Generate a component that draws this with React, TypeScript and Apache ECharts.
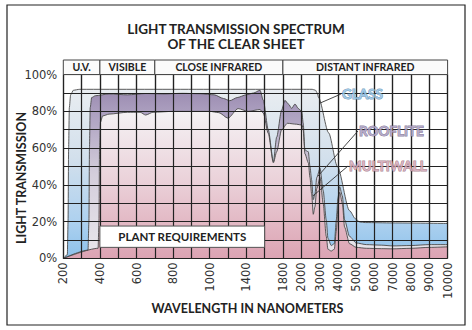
import React, { useEffect, useRef } from "react";
import * as echarts from "echarts";

// Axis ticks (the axis is not linear in wavelength: one grid cell per tick)
const TICK_WL = [200, 300, 400, 500, 600, 700, 800, 900, 1000, 1200, 1400, 1600, 1800, 2000, 3000, 4000, 5000, 6000, 7000, 8000, 9000, 10000];
const TICK_LABELS = ["200", "", "400", "", "600", "", "800", "", "1000", "", "1400", "", "1800", "2000", "3000", "4000", "5000", "6000", "7000", "8000", "9000", "10000"];
const Y_GRID = [0, 10, 20, 30, 40, 50, 60, 70, 80, 90, 100];

// Spectral bands in the header
const BAND_EDGES = [200, 400, 700, 1800, 10000];
const BAND_NAMES = ["U.V.", "VISIBLE", "CLOSE INFRARED", "DISTANT INFRARED"];

// Glass
const GLASS_WL = [200, 222, 226, 229, 233, 240, 255, 290, 1000, 2000, 2600, 2780, 2880, 2950, 3500, 3980, 4640, 4970, 5200, 5500, 7000, 10000];
const GLASS_T = [0, 2, 20, 60, 82, 89, 91.5, 92, 92, 92, 92, 91.5, 90, 87.5, 68.3, 50, 26, 21.5, 19.8, 19.5, 19.3, 19];

// Rooflite
const ROOF_WL = [200, 335, 340, 343, 347, 355, 375, 450, 550, 650, 750, 850, 950, 1050, 1150, 1220, 1300, 1400, 1480, 1550, 1586, 1640, 1696, 1732, 1786, 1822, 1860, 1896, 1932, 1968, 2030, 2110, 2200, 2390, 2480, 2570, 2660, 2750, 2850, 3030, 3200, 3370, 3460, 3640, 3810, 3920, 4010, 4100, 4250, 4370, 4640, 5010, 5560, 6380, 7000, 8000, 9000, 10000];
const ROOF_T = [0, 4.5, 20, 60, 82, 87.5, 88.5, 89.5, 89, 89.7, 89.5, 89.8, 89.6, 89, 87, 85.8, 87.5, 89, 90, 91.5, 86, 70, 52.6, 66, 80.7, 86, 84, 81.6, 84, 81.6, 80, 73.6, 59, 58, 50, 42.6, 32, 35, 44, 49, 37, 21, 11, 7, 8, 21, 33, 39, 34, 21, 12, 8.4, 7.5, 7.2, 6.8, 7, 7.5, 7.5];

// Multiwall
const MULTI_WL = [200, 390, 395, 398, 403, 415, 450, 550, 620, 650, 690, 800, 900, 1000, 1100, 1200, 1310, 1420, 1550, 1586, 1640, 1696, 1732, 1786, 1850, 1950, 2050, 2110, 2200, 2390, 2480, 2570, 2660, 2750, 2850, 3030, 3200, 3370, 3460, 3640, 3810, 3920, 4010, 4100, 4250, 4370, 4640, 5010, 5560, 6380, 7000, 8000, 9000, 10000];
const MULTI_T = [0, 5.5, 20, 60, 74, 77.5, 78.5, 79.5, 79.5, 78, 79.5, 80, 80, 80, 79.3, 76.3, 81.5, 80, 81, 79, 68, 52, 58, 70, 73.5, 73, 72.5, 70, 57, 52, 44, 35, 24, 28, 38, 44, 30, 12, 5, 4, 5, 15, 28, 36, 30, 17, 8, 6, 5.5, 5.3, 5.2, 5.5, 6, 6.3];

// Plant requirements box (wavelength range, transmission range)
const PLANT_WL = [400, 1600];
const PLANT_T = [6, 17.6];

// Series labels with leader lines
const LABEL_NAMES = ["GLASS", "ROOFLITE", "MULTIWALL"];
const LABEL_FROM_WL = [4170, 5100, 4560];
const LABEL_FROM_T = [89.4, 69.3, 50.3];
const LABEL_TO_WL = [3030, 2920, 2640];
const LABEL_TO_T = [84.5, 44.8, 34];
const LABEL_COLORS = ["#9ccaea", "#b3a7c8", "#dab0bf"];
const LABEL_EDGES = ["#5b88ad", "#716489", "#936676"];

function pos(w: number): number {
  for (let i = 0; i < TICK_WL.length - 1; i++) {
    if (w <= TICK_WL[i + 1]) {
      return i + (w - TICK_WL[i]) / (TICK_WL[i + 1] - TICK_WL[i]);
    }
  }
  return TICK_WL.length - 1;
}

function toXY(wl: number[], t: number[]) {
  return wl.map((w, i) => [pos(w), t[i]]);
}

const FONT = "Lato, 'Open Sans', sans-serif";

export default function App() {
  const ref = useRef<HTMLDivElement>(null);

  useEffect(() => {
    if (!ref.current) return;
    const chart = echarts.init(ref.current, null, { renderer: "svg" });
    const G = echarts.graphic.LinearGradient;
    const outline = { color: "#4a4a4a", width: 0.9 };
    const gridLeft = 63.3;
    const gridRight = 472 - 447.6;
    const xMax = TICK_WL.length - 1;
    const gridLineStyle = { color: "#222", width: 1.2, type: "solid" };

    // grid lines (vertical at every tick, horizontal every 10 %) plus label leader lines
    const gridLines: any[] = [
      ...TICK_WL.map((_, i) => [
        { coord: [i, 0], lineStyle: gridLineStyle },
        { coord: [i, 100] },
      ]),
      ...Y_GRID.map((v) => [
        { coord: [0, v], lineStyle: gridLineStyle },
        { coord: [xMax, v] },
      ]),
    ];
    const leaderLines: any[] = LABEL_NAMES.map((_, i) => [
      { coord: [pos(LABEL_FROM_WL[i]), LABEL_FROM_T[i]] },
      { coord: [pos(LABEL_TO_WL[i]), LABEL_TO_T[i]] },
    ]);

    const option: any = {
      animation: false,
      backgroundColor: "#ffffff",
      title: {
        text: "LIGHT TRANSMISSION SPECTRUM\nOF THE CLEAR SHEET",
        left: "center",
        top: 16,
        textStyle: { fontFamily: FONT, fontWeight: "bold", fontSize: 13.5, lineHeight: 15, color: "#222" },
      },
      grid: [
        { left: gridLeft, right: gridRight, top: 74.6, bottom: 330 - 258.4 },
        { left: gridLeft, right: gridRight, top: 60, height: 14.6 },
      ],
      xAxis: [
        {
          type: "value",
          gridIndex: 0,
          min: 0,
          max: xMax,
          interval: 1,
          axisLine: { show: false },
          axisTick: { show: false },
          splitLine: { show: true, lineStyle: { color: "#222", width: 1.2 } },
          axisLabel: {
            rotate: 90,
            margin: 4,
            fontSize: 11.5,
            color: "#333",
            fontFamily: "'DejaVu Sans', sans-serif",
            formatter: (v: number) => TICK_LABELS[Math.round(v)] ?? "",
          },
        },
        { type: "value", gridIndex: 1, min: 0, max: xMax, show: false },
      ],
      yAxis: [
        {
          type: "value",
          gridIndex: 0,
          min: 0,
          max: 100,
          interval: 10,
          axisLine: { show: false },
          axisTick: { show: false },
          splitLine: { show: true, lineStyle: { color: "#222", width: 1.2 } },
          axisLabel: {
            margin: 6,
            fontSize: 11.5,
            color: "#333",
            fontFamily: "'DejaVu Sans', sans-serif",
            formatter: (v: number) => (v % 20 === 0 ? v + "%" : ""),
          },
        },
        { type: "value", gridIndex: 1, min: 0, max: 1, show: false },
      ],
      series: [
        {
          type: "line",
          name: "Glass",
          data: toXY(GLASS_WL, GLASS_T),
          symbol: "none",
          smooth: 0.25,
          smoothMonotone: "x",
          lineStyle: outline,
          z: 2,
          areaStyle: {
            opacity: 1,
            color: new G(0, 0, 0, 1, [
              { offset: 0, color: "#e9edf1" },
              { offset: 0.4, color: "#d3e0ec" },
              { offset: 0.78, color: "#aed1ef" },
              { offset: 1, color: "#8cc1eb" },
            ]),
          },
        },
        {
          type: "line",
          name: "Rooflite",
          data: toXY(ROOF_WL, ROOF_T),
          symbol: "none",
          smooth: 0.25,
          smoothMonotone: "x",
          lineStyle: outline,
          z: 2,
          areaStyle: {
            opacity: 1,
            color: new G(0, 0, 0, 1, [
              { offset: 0, color: "#9b8bb1" },
              { offset: 0.15, color: "#aea2c1" },
              { offset: 0.5, color: "#d4cedb" },
              { offset: 1, color: "#e9e7ec" },
            ]),
          },
        },
        {
          type: "line",
          name: "Multiwall",
          data: toXY(MULTI_WL, MULTI_T),
          symbol: "none",
          smooth: 0.25,
          smoothMonotone: "x",
          lineStyle: outline,
          z: 2,
          areaStyle: {
            opacity: 1,
            color: new G(0, 0, 0, 1, [
              { offset: 0, color: "#f5f3f5" },
              { offset: 0.5, color: "#ead0d8" },
              { offset: 1, color: "#dca3b3" },
            ]),
          },
        },
        {
          type: "scatter",
          name: "annotations",
          z: 45,
          symbolSize: 0,
          silent: true,
          data: LABEL_NAMES.map((n, i) => ({
            name: n,
            value: [pos(LABEL_FROM_WL[i]), LABEL_FROM_T[i]],
            label: { color: LABEL_COLORS[i], textBorderColor: LABEL_EDGES[i] },
          })),
          label: {
            show: true,
            position: [1, 0],
            align: "left",
            verticalAlign: "middle",
            formatter: "{b}",
            fontFamily: FONT,
            fontWeight: "bold",
            fontSize: 13.5,
            textBorderWidth: 1,
          },
          markLine: {
            z: 31,
            silent: true,
            symbol: ["none", "none"],
            label: { show: false },
            lineStyle: { color: "#333", width: 0.9, type: "solid" },
            data: [...gridLines, ...leaderLines],
          },
          markArea: {
            z: 40,
            silent: true,
            itemStyle: { color: "#ffffff", borderColor: "#555", borderWidth: 1 },
            label: {
              show: true,
              position: "inside",
              fontFamily: FONT,
              fontWeight: "bold",
              fontSize: 11.5,
              color: "#222",
            },
            data: [
              [
                { name: "PLANT REQUIREMENTS", coord: [pos(PLANT_WL[0]), PLANT_T[0]] },
                { coord: [pos(PLANT_WL[1]), PLANT_T[1]] },
              ],
            ],
          },
        },
        {
          type: "scatter",
          name: "bands",
          xAxisIndex: 1,
          yAxisIndex: 1,
          symbolSize: 0,
          silent: true,
          data: [[0, 0]],
          markArea: {
            z: 40,
            silent: true,
            itemStyle: { color: "#fbfbfb", borderColor: "#444", borderWidth: 1 },
            label: {
              show: true,
              position: "inside",
              fontFamily: FONT,
              fontWeight: "bold",
              fontSize: 10.5,
              color: "#222",
            },
            data: BAND_NAMES.map((n, i) => [
              { name: n, coord: [pos(BAND_EDGES[i]), 0] },
              { coord: [pos(BAND_EDGES[i + 1]), 1] },
            ]),
          },
        },
      ],
      graphic: [
        {
          type: "rect",
          shape: { x: 7, y: 5, width: 458, height: 320 },
          style: { fill: "none", stroke: "#222", lineWidth: 1.2 },
          z: 100,
        },
        {
          type: "text",
          x: 21,
          y: 178,
          rotation: Math.PI / 2,
          style: {
            text: "LIGHT TRANSMISSION",
            fontFamily: FONT,
            fontWeight: "bold",
            fontSize: 12.5,
            fill: "#222",
            textAlign: "center",
            textVerticalAlign: "middle",
          },
          z: 100,
        },
        {
          type: "text",
          x: 247.5,
          y: 308,
          style: {
            text: "WAVELENGTH IN NANOMETERS",
            fontFamily: FONT,
            fontWeight: "bold",
            fontSize: 12.5,
            fill: "#222",
            textAlign: "center",
            textVerticalAlign: "middle",
          },
          z: 100,
        },
      ],
    };

    chart.setOption(option);
    return () => chart.dispose();
  }, []);

  return (
    <div
      ref={ref}
      style={{ position: "absolute", left: 0, top: 0, width: 472, height: 330, background: "#fff" }}
    />
  );
}
